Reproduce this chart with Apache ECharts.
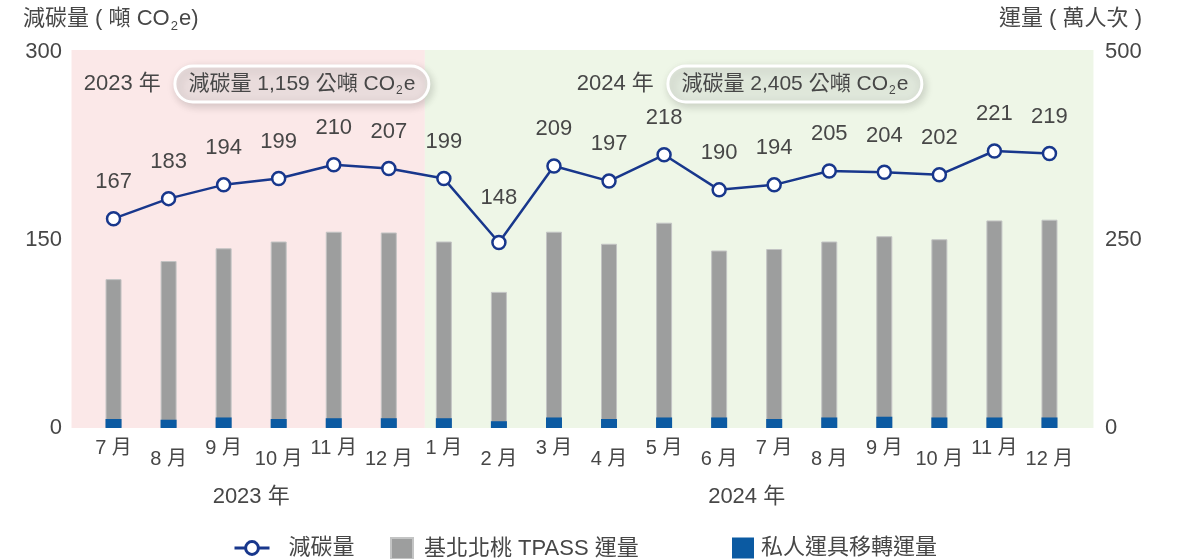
<!DOCTYPE html>
<html>
<head>
<meta charset="utf-8">
<script src="https://cdn.jsdelivr.net/npm/echarts@6/dist/echarts.min.js"></script>
<style>
  html, body { margin: 0; padding: 0; background: #ffffff; }
  #chart { width: 1177px; height: 559px; }
</style>
</head>
<body>
<div id="chart"></div>
<script>
// Monthly categories, Jul 2023 – Dec 2024
const months = ['7月', '8月', '9月', '10月', '11月', '12月',
                '1月', '2月', '3月', '4月', '5月', '6月', '7月', '8月', '9月', '10月', '11月', '12月'];
const years = ['2023 年', '2024 年'];
const yearTotals = ['1,159', '2,405'];

// Carbon reduction (tonnes CO2e)
const reduction = [167, 183, 194, 199, 210, 207, 199, 148, 209, 197, 218, 190, 194, 205, 204, 202, 221, 219];
// TPASS ridership, Keelung–Taipei–New Taipei–Taoyuan (10k trips)
const tpassRides = [198, 222, 239, 248, 261, 260, 248, 181, 261, 245, 273, 236, 238, 248, 255, 251, 276, 277];
// Shift from private vehicles (10k trips)
const privateShift = [12, 11, 14, 12, 13, 13, 13, 9, 14, 12, 14, 14, 12, 14, 15, 14, 14, 14];

const leftTicks = { min: 0, max: 300, interval: 150 };
const rightTicks = { min: 0, max: 500, interval: 250 };

const FONT = '"Liberation Sans", Arial, "Noto Sans CJK TC", sans-serif';
const TEXT = '#474747';
const NAVY = '#18378c';

const chart = echarts.init(document.getElementById('chart'));

const lineData = reduction.map(v => (
  v === Math.min(...reduction) ? { value: v, label: { distance: 26 } } : v
));

const legendText = pad => ({ fontSize: 22, color: TEXT, fontFamily: FONT, padding: [0, 0, 0, pad] });

chart.setOption({
  backgroundColor: '#ffffff',
  animation: false,
  textStyle: { fontFamily: FONT },
  grid: { left: 86, right: 100, top: 52, bottom: 131, containLabel: false },
  legend: [
    {
      data: [{
        name: '減碳量',
        lineStyle: { width: 3 },
        itemStyle: { borderWidth: 3 }
      }],
      left: 233, top: 537, padding: 0, itemWidth: 35, itemHeight: 16,
      textStyle: legendText(14)
    },
    {
      data: ['基北北桃 TPASS 運量'], left: 390, top: 537, padding: 0, itemWidth: 22, itemHeight: 21,
      icon: 'rect',
      textStyle: legendText(6)
    },
    {
      data: ['私人運具移轉運量'], left: 732, top: 537, padding: 0, itemWidth: 22, itemHeight: 21,
      icon: 'rect',
      textStyle: legendText(2)
    }
  ],
  xAxis: {
    type: 'category',
    data: months,
    axisLine: { show: false },
    axisTick: { show: false },
    axisLabel: {
      interval: 0,
      margin: 10,
      color: TEXT,
      fontSize: 20,
      formatter: (v, i) => (i % 2 ? '{lo|' + v.replace('月', ' 月') + '}' : '{hi|' + v.replace('月', ' 月') + '}'),
      rich: {
        hi: { fontSize: 20, color: TEXT, fontFamily: FONT },
        lo: { fontSize: 20, color: TEXT, fontFamily: FONT, padding: [11, 0, 0, 0] }
      }
    }
  },
  yAxis: [
    {
      type: 'value', ...leftTicks,
      splitLine: { show: false },
      axisLine: { show: false }, axisTick: { show: false },
      axisLabel: { color: TEXT, fontSize: 22, margin: 24 }
    },
    {
      type: 'value', ...rightTicks,
      splitLine: { show: false },
      axisLine: { show: false }, axisTick: { show: false },
      axisLabel: { color: TEXT, fontSize: 22, margin: 28 }
    }
  ],
  series: [
    {
      name: '基北北桃 TPASS 運量',
      type: 'bar',
      yAxisIndex: 1,
      data: tpassRides,
      barWidth: 16,
      barGap: '-100%',
      itemStyle: { color: '#9d9e9e', borderColor: '#c3c4c4', borderWidth: 1 },
      z: 2
    },
    {
      name: '私人運具移轉運量',
      type: 'bar',
      yAxisIndex: 1,
      data: privateShift,
      barWidth: 16,
      itemStyle: { color: '#0b5aa2' },
      z: 3
    },
    {
      name: '減碳量',
      type: 'line',
      yAxisIndex: 0,
      data: lineData,
      symbol: 'circle',
      symbolSize: 13,
      lineStyle: { color: NAVY, width: 2.5 },
      itemStyle: { color: '#ffffff', borderColor: NAVY, borderWidth: 2.5 },
      label: { show: true, position: 'top', distance: 18, fontSize: 22, color: TEXT, fontFamily: FONT },
      z: 5
    }
  ]
});

// Background bands, period badges, axis titles and year captions
function drawDecor() {
  const px = i => chart.convertToPixel({ xAxisIndex: 0 }, i);
  const top = chart.convertToPixel({ yAxisIndex: 0 }, leftTicks.max) - 2;
  const bottom = chart.convertToPixel({ yAxisIndex: 0 }, leftTicks.min);
  const split = 6;
  const last = months.length - 1;
  const bandLeft = px(0) - 42;
  const bandMid = px(split) - 19;
  const bandRight = px(last) + 44;

  const richBadge = total => ({
    text: '{a|減碳量 ' + total + ' 公噸 CO}{s|2}{a|e}',
    rich: {
      a: { fontSize: 21, fill: TEXT, fontFamily: FONT, lineHeight: 26 },
      s: { fontSize: 12, fill: TEXT, fontFamily: FONT, lineHeight: 26, verticalAlign: 'bottom', padding: [0, 1, 0, 1] }
    }
  });

  const badge = (x, total, tint) => ({
    type: 'group',
    x: x, y: 66,
    z: 10,
    children: [
      {
        type: 'rect',
        shape: { x: 0, y: 0, width: 254, height: 36, r: 18 },
        style: {
          fill: tint, stroke: '#ffffff', lineWidth: 3,
          shadowBlur: 8, shadowOffsetX: 2, shadowOffsetY: 3, shadowColor: 'rgba(0,0,0,0.18)'
        }
      },
      {
        type: 'text',
        x: 127, y: 18,
        style: Object.assign(richBadge(total), { align: 'center', verticalAlign: 'middle' })
      }
    ]
  });

  chart.setOption({
    graphic: [
      {
        type: 'rect', z: -10, silent: true,
        shape: { x: bandLeft, y: top, width: bandMid - bandLeft, height: bottom - top },
        style: { fill: '#fbe8e8' }
      },
      {
        type: 'rect', z: -10, silent: true,
        shape: { x: bandMid, y: top, width: bandRight - bandMid, height: bottom - top },
        style: { fill: '#eef6e7' }
      },
      badge(bandMid - 250, yearTotals[0], 'rgba(238,226,226,0.75)'),
      badge(bandMid + 243, yearTotals[1], 'rgba(228,236,224,0.75)'),
      {
        type: 'text', z: 10, x: bandMid - 264, y: 84,
        style: { text: years[0], font: '22px ' + FONT, fill: TEXT, align: 'right', verticalAlign: 'middle' }
      },
      {
        type: 'text', z: 10, x: bandMid + 229, y: 84,
        style: { text: years[1], font: '22px ' + FONT, fill: TEXT, align: 'right', verticalAlign: 'middle' }
      },
      {
        type: 'text', z: 10, x: (px(2) + px(3)) / 2, y: 497,
        style: { text: years[0], font: '22px ' + FONT, fill: TEXT, align: 'center', verticalAlign: 'middle' }
      },
      {
        type: 'text', z: 10, x: (px(split) + px(last)) / 2, y: 497,
        style: { text: years[1], font: '22px ' + FONT, fill: TEXT, align: 'center', verticalAlign: 'middle' }
      },
      {
        type: 'text', z: 10, x: 23, y: 19,
        style: {
          text: '{a|減碳量 ( 噸 CO}{s|2}{a|e)}',
          rich: {
            a: { fontSize: 22, fill: TEXT, fontFamily: FONT, lineHeight: 28 },
            s: { fontSize: 13, fill: TEXT, fontFamily: FONT, lineHeight: 28, verticalAlign: 'bottom', padding: [0, 1, 0, 1] }
          },
          align: 'left', verticalAlign: 'middle'
        }
      },
      {
        type: 'text', z: 10, x: 1142, y: 19,
        style: { text: '運量 ( 萬人次 )', font: '22px ' + FONT, fill: TEXT, align: 'right', verticalAlign: 'middle' }
      }
    ]
  });
}
drawDecor();
</script>
</body>
</html>
